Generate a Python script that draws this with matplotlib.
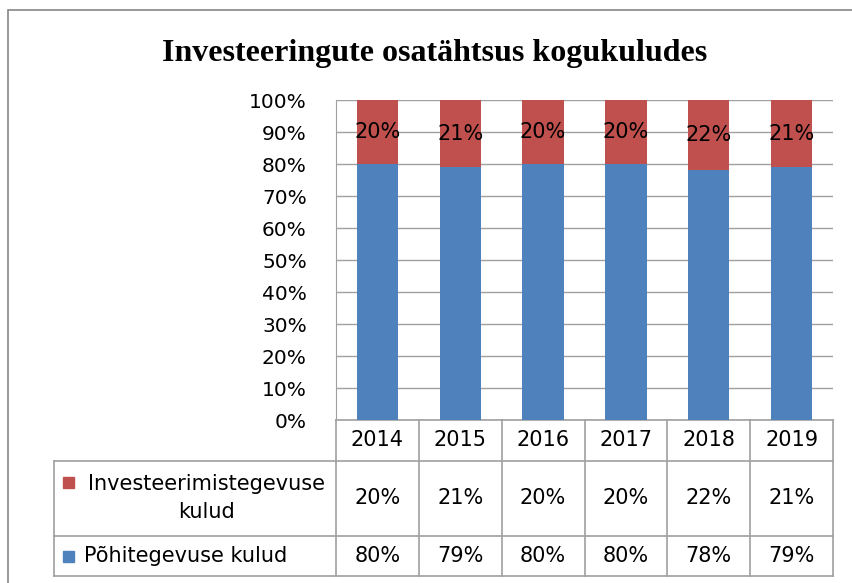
import matplotlib
matplotlib.use("Agg")
import matplotlib.pyplot as plt
import matplotlib.transforms as mtransforms
from matplotlib.patches import Rectangle

# Data
years = ["2014", "2015", "2016", "2017", "2018", "2019"]
invest = [20, 21, 20, 20, 22, 21]
main_costs = [80, 79, 80, 80, 78, 79]
invest_name = "Investeerimistegevuse\nkulud"
main_name = "Põhitegevuse kulud"
title = "Investeeringute osatähtsus kogukuludes"

RED = "#C0504D"
BLUE = "#4F81BD"
GRID = "#A0A0A0"
W, H = 852, 583
FS = 15

plt.rcParams['font.family'] = ['DejaVu Sans']


def fx(x):
    return x / W


def fy(y):
    return 1 - y / H


fig = plt.figure(figsize=(W / 100, H / 100), dpi=100)
ax = fig.add_axes([fx(336), fy(420), (833 - 336) / W, 320 / H])

xs = list(range(len(years)))
ax.bar(xs, main_costs, width=0.5, color=BLUE, zorder=3)
red_bars = ax.bar(xs, invest, width=0.5, bottom=main_costs, color=RED, zorder=3)
ax.bar_label(red_bars, labels=[f"{v}%" for v in invest], label_type='center',
             fontsize=FS, color='black')

ax.set_xlim(-0.5, len(years) - 0.5)
ax.set_ylim(0, 100)
ax.set_yticks(range(0, 101, 10))
ax.set_yticklabels([f"{v}%" for v in range(0, 101, 10)], fontsize=14.5)
ax.tick_params(axis='y', length=0, pad=21)
ax.set_xticks([])
ax.yaxis.grid(True, color=GRID, linewidth=1)
ax.set_axisbelow(True)
for s in ['top', 'right', 'bottom']:
    ax.spines[s].set_visible(False)
ax.spines['left'].set_color(GRID)

# data table below the plot
trans = mtransforms.blended_transform_factory(ax.transData, ax.transAxes)
px_per_unit = (833 - 336) / len(years)
x_left = -0.5 - (336 - 54) / px_per_unit
rows = [0, -41 / 320, -116 / 320, -156 / 320]
xe = len(years) - 0.5
lc = dict(color=GRID, linewidth=1.2, transform=trans, clip_on=False)
ax.plot([-0.5, xe], [rows[0], rows[0]], **lc)
for r in rows[1:]:
    ax.plot([x_left, xe], [r, r], **lc)
for i in range(len(years) + 1):
    ax.plot([i - 0.5, i - 0.5], [rows[0], rows[3]], **lc)
ax.plot([x_left, x_left], [rows[1], rows[3]], **lc)

for i, yr in enumerate(years):
    ax.text(i, (rows[0] + rows[1]) / 2, yr, transform=trans, ha='center',
            va='center', fontsize=FS)
    ax.text(i, (rows[1] + rows[2]) / 2, f"{invest[i]}%", transform=trans,
            ha='center', va='center', fontsize=FS)
    ax.text(i, (rows[2] + rows[3]) / 2, f"{main_costs[i]}%", transform=trans,
            ha='center', va='center', fontsize=FS)

# row headers with legend keys
fig.patches.append(Rectangle((fx(63), fy(488)), 11 / W, 11 / H, color=RED,
                             transform=fig.transFigure))
fig.patches.append(Rectangle((fx(63), fy(562)), 11 / W, 11 / H, color=BLUE,
                             transform=fig.transFigure))
fig.text(fx(207), fy(498), invest_name, ha='center', va='center',
         multialignment='center', fontsize=FS, linespacing=1.45)
fig.text(fx(84), fy(556), main_name, ha='left', va='center', fontsize=FS)

fig.text(fx(435), fy(61), title, ha='center', va='baseline', fontsize=23,
         fontweight='bold', family=['Liberation Serif', 'DejaVu Serif'])

# chart border (only top and left edges fall inside the image)
fig.patches.append(Rectangle((fx(8), fy(620)), 2, 610 / H, fill=False,
                             edgecolor='#868686', linewidth=1.2,
                             transform=fig.transFigure))

fig.savefig("out.png", dpi=100)
